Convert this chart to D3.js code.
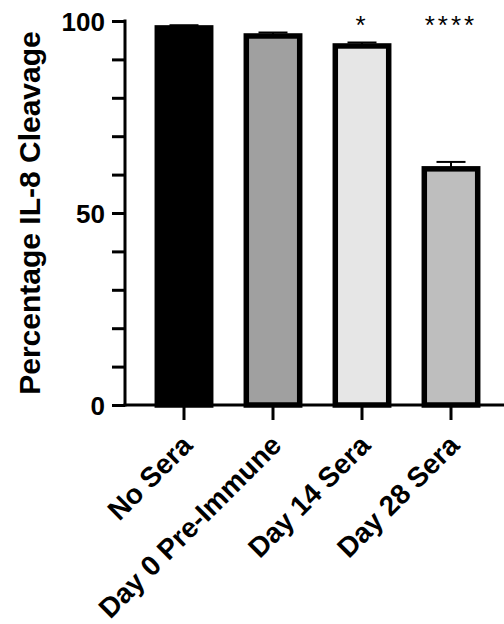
<!DOCTYPE html>
<html>
<head>
<meta charset="utf-8">
<script src="https://cdn.jsdelivr.net/npm/d3@7"></script>
<style>
  html, body { margin: 0; padding: 0; background: #fff; }
  svg { display: block; }
  text { font-family: "Liberation Sans", Arial, sans-serif; }
</style>
</head>
<body>
<svg id="chart" width="504" height="624"></svg>
<script>
const categories = ["No Sera", "Day 0 Pre-Immune", "Day 14 Sera", "Day 28 Sera"];
const values = [98.2, 96.1, 93.5, 61.5];
const errors = [0.7, 0.9, 0.9, 1.8];
const fills = ["#000000", "#a0a0a0", "#e6e6e6", "#bebebe"];
const significance = ["", "", "*", "****"];
const yTickValues = [0, 10, 20, 30, 40, 50, 60, 70, 80, 90, 100];
const yTickLabels = [0, 50, 100];
const yTitle = "Percentage IL-8 Cleavage";

const svg = d3.select("#chart");
const axisX = 125, baseY = 405, topY = 21;

const y = d3.scaleLinear().domain([0, 100]).range([baseY, topY]);
const x = d3.scaleBand().domain(categories)
  .range([139.5, 495.5]).paddingInner(0.4).paddingOuter(0.2);

// Bars
svg.append("g").selectAll("rect").data(categories).join("rect")
  .attr("x", d => x(d))
  .attr("y", (d, i) => y(values[i]))
  .attr("width", x.bandwidth())
  .attr("height", (d, i) => baseY - y(values[i]))
  .attr("fill", (d, i) => fills[i])
  .attr("stroke", "#000")
  .attr("stroke-width", 5.5);

// Error bars (upper only)
const eg = svg.append("g").attr("stroke", "#000").attr("stroke-width", 2);
categories.forEach((c, i) => {
  const cx = x(c) + x.bandwidth() / 2;
  const yt = y(values[i] + errors[i]);
  eg.append("line").attr("x1", cx).attr("x2", cx).attr("y1", y(values[i])).attr("y2", yt);
  eg.append("line").attr("x1", cx - 14.5).attr("x2", cx + 14.5).attr("y1", yt).attr("y2", yt);
});

// Y axis
const yAxis = d3.axisLeft(y).tickValues(yTickValues).tickSize(13)
  .tickFormat(d => yTickLabels.includes(d) ? d : "");
const yg = svg.append("g").attr("transform", `translate(${axisX},0)`).call(yAxis);
yg.select(".domain").attr("stroke", "#000").attr("stroke-width", 3)
  .attr("d", `M0,${baseY + 1.5}V${topY - 1.5}`);
yg.selectAll(".tick line").attr("stroke", "#000").attr("stroke-width", 3);
yg.selectAll(".tick text").attr("x", -20).attr("dy", "0.36em")
  .attr("font-size", 26).attr("font-weight", "bold").attr("fill", "#000")
  .style("font-family", "'Liberation Sans', Arial, sans-serif");

// X axis
const xAxis = d3.axisBottom(x).tickSize(15).tickFormat("");
const xg = svg.append("g").attr("transform", `translate(0,${baseY})`).call(xAxis);
xg.select(".domain").attr("stroke", "#000").attr("stroke-width", 3)
  .attr("d", `M${axisX - 1.5},0H504`);
xg.selectAll(".tick line").attr("stroke", "#000").attr("stroke-width", 3);

// Category labels
svg.append("g").selectAll("text").data(categories).join("text")
  .attr("transform", d => `translate(${x(d) + x.bandwidth() / 2 + 10},447) rotate(-45)`)
  .attr("text-anchor", "end")
  .attr("font-size", 28).attr("font-weight", "bold").attr("fill", "#000")
  .text(d => d);

// Significance stars
svg.append("g").selectAll("text").data(categories).join("text")
  .attr("x", d => x(d) + x.bandwidth() / 2)
  .attr("y", 34)
  .attr("text-anchor", "middle")
  .attr("font-size", 26).attr("letter-spacing", 3).attr("fill", "#000")
  .text((d, i) => significance[i]);

// Y title
svg.append("text")
  .attr("transform", `translate(40,${(baseY + topY) / 2}) rotate(-90)`)
  .attr("text-anchor", "middle")
  .attr("font-size", 30).attr("font-weight", "bold").attr("fill", "#000")
  .text(yTitle);
</script>
</body>
</html>
